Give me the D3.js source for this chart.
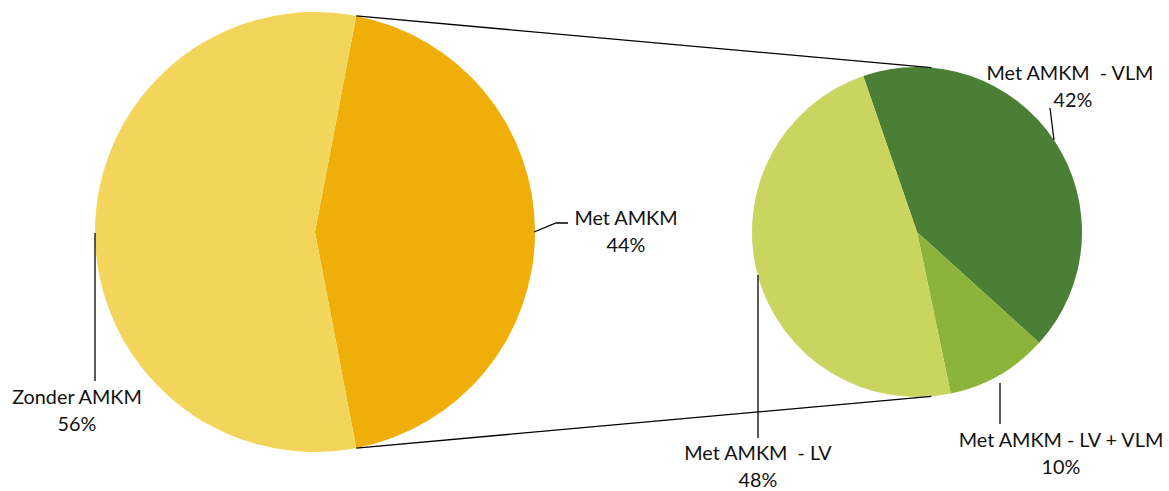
<!DOCTYPE html>
<html>
<head>
<meta charset="utf-8">
<script src="https://cdn.jsdelivr.net/npm/d3@7"></script>
<style>
  body { margin: 0; background: #fff; }
  text { font-family: Lato, "Open Sans", sans-serif; font-size: 19.8px; fill: #111; }
</style>
</head>
<body>
<svg id="chart" width="1169" height="491"></svg>
<script>
// main pie
const mainLabels = ["Met AMKM", "Zonder AMKM"];
const mainValues = [44, 56];
const mainColors = ["#f0ae08", "#f4d55b"];

// second pie (split of "Met AMKM")
const subLabels = ["Met AMKM  - VLM", "Met AMKM - LV + VLM", "Met AMKM  - LV"];
const subValues = [42, 10, 48];
const subColors = ["#4a7f35", "#8db43a", "#c9d55f"];

const svg = d3.select("#chart");

const main = { cx: 315, cy: 232, r: 220 };
const sub = { cx: 917, cy: 232, r: 165 };

const deg = Math.PI / 180;

// main pie: "Met AMKM" slice centred on the right side
const mainSpan = mainValues[0] / d3.sum(mainValues) * 2 * Math.PI;
const mainStart = Math.PI / 2 - mainSpan / 2;
const mainPie = d3.pie().sort(null).value(d => d)
  .startAngle(mainStart).endAngle(mainStart + 2 * Math.PI);
const mainArcs = mainPie(mainValues);
const arcMain = d3.arc().innerRadius(0).outerRadius(main.r);

const gMain = svg.append("g").attr("transform", `translate(${main.cx},${main.cy})`);
gMain.selectAll("path").data(mainArcs).enter().append("path")
  .attr("d", arcMain)
  .attr("fill", (d, i) => mainColors[i]);

// second pie
const subStart = -19 * deg;
const subPie = d3.pie().sort(null).value(d => d)
  .startAngle(subStart).endAngle(subStart + 2 * Math.PI);
const subArcs = subPie(subValues);
const arcSub = d3.arc().innerRadius(0).outerRadius(sub.r);

const gSub = svg.append("g").attr("transform", `translate(${sub.cx},${sub.cy})`);
gSub.selectAll("path").data(subArcs).enter().append("path")
  .attr("d", arcSub)
  .attr("fill", (d, i) => subColors[i]);

// point on a circle, angle measured clockwise from 12 o'clock
const pt = (c, a) => [c.cx + c.r * Math.sin(a), c.cy - c.r * Math.cos(a)];

// connector lines
const conn = [
  [pt(main, mainArcs[0].startAngle), pt(sub, 5 * deg)],
  [pt(main, mainArcs[0].endAngle), pt(sub, 175 * deg)]
];
svg.selectAll(".conn").data(conn).enter().append("line")
  .attr("class", "conn")
  .attr("x1", d => d[0][0]).attr("y1", d => d[0][1])
  .attr("x2", d => d[1][0]).attr("y2", d => d[1][1])
  .attr("stroke", "#000").attr("stroke-width", 1.3);

// label layout: leader line points, text anchor (centre of first line), 2nd line offset
const mainLayout = [
  { leader: [[534, 232], [556, 223], [568, 223]], tx: 626, ty: 217, dx2: 0 },
  { leader: [[95, 233], [95, 381]], tx: 77, ty: 396, dx2: 0 }
];
const subLayout = [
  { leader: [[1054, 140], [1050, 108]], tx: 1070, ty: 72, dx2: 3 },
  { leader: [[1000, 383], [1000, 424]], tx: 1061, ty: 439, dx2: 0 },
  { leader: [[758, 275], [758, 438]], tx: 758, ty: 452, dx2: 0 }
];

function drawLabels(labels, values, layout) {
  const line = d3.line();
  layout.forEach((l, i) => {
    svg.append("path")
      .attr("d", line(l.leader))
      .attr("fill", "none")
      .attr("stroke", "#000")
      .attr("stroke-width", 1.3);
    const t = svg.append("text")
      .attr("text-anchor", "middle")
      .attr("x", l.tx).attr("y", l.ty)
      .attr("dominant-baseline", "central")
      .attr("xml:space", "preserve");
    t.append("tspan").attr("x", l.tx).text(labels[i]);
    t.append("tspan").attr("x", l.tx + l.dx2)
      .attr("dy", 27).text(values[i] + "%");
  });
}
drawLabels(mainLabels, mainValues, mainLayout);
drawLabels(subLabels, subValues, subLayout);
</script>
</body>
</html>
